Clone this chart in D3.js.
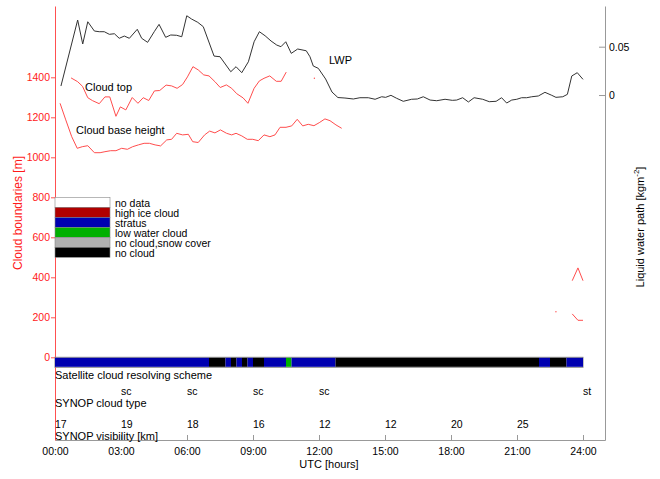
<!DOCTYPE html>
<html>
<head>
<meta charset="utf-8">
<script src="https://cdn.jsdelivr.net/npm/d3@7.9.0/dist/d3.min.js"></script>
<style>
body { margin: 0; background: #fff; }
svg text { font-family: "Liberation Sans", Arial, sans-serif; }
</style>
</head>
<body>
<svg id="chart" width="660" height="479"></svg>
<script>
// hours on x; null = gap
const cloudTop = [
  [0.73,1397],[1.03,1378],[1.25,1355],[1.49,1298],[1.71,1283],[2.01,1268],[2.27,1302],[2.49,1302],
  [2.77,1205],[2.97,1252],[3.22,1237],[3.51,1299],[3.77,1270],[4.01,1298],[4.26,1284],[4.52,1332],
  [4.76,1334],[5.05,1361],[5.30,1357],[5.55,1345],[5.80,1364],[6.02,1402],[6.27,1453],[6.51,1437],
  [6.76,1412],[7.00,1407],[7.27,1378],[7.51,1349],[7.79,1362],[8.03,1345],[8.26,1318],[8.55,1297],
  [8.77,1270],[9.05,1345],[9.29,1382],[9.50,1395],[9.76,1407],[10.06,1380],[10.28,1380],[10.51,1426],
  [11.2,null],[11.79,1395],[12.3,null],
  [23.51,383],[23.77,447],[24.0,383]
];
const cloudBase = [
  [0.23,1270],[0.49,1187],[0.76,1103],[1.01,1045],[1.24,1053],[1.49,1058],[1.79,1023],[2.05,1023],
  [2.27,1028],[2.53,1033],[2.77,1033],[3.03,1045],[3.29,1040],[3.53,1053],[3.79,1062],[4.05,1070],
  [4.29,1070],[4.55,1062],[4.80,1057],[5.08,1087],[5.30,1090],[5.53,1120],[5.80,1112],[6.06,1115],
  [6.26,1078],[6.51,1074],[6.80,1112],[7.03,1131],[7.27,1122],[7.52,1137],[7.80,1120],[8.03,1112],
  [8.23,1120],[8.49,1107],[8.74,1090],[8.99,1090],[9.24,1083],[9.50,1112],[9.77,1103],[10.00,1112],
  [10.23,1150],[10.50,1150],[10.76,1157],[11.01,1190],[11.26,1157],[11.51,1165],[11.77,1158],[12.01,1173],
  [12.27,1192],[12.50,1183],[12.77,1162],[13.03,1145],
  [13.3,null],[22.77,228],[23.0,null],
  [23.51,217],[23.77,185],[24.0,185]
];
const lwp = [
  [0.27,0.0093],[1.03,0.0776],[1.26,0.0528],[1.49,0.0758],[1.79,0.0662],[2.01,0.0655],[2.24,0.0655],
  [2.47,0.0628],[2.70,0.0634],[2.92,0.0587],[3.15,0.0610],[3.38,0.0587],[3.74,0.0680],[3.94,0.0587],
  [4.21,0.0545],[4.51,0.0655],[4.73,0.0731],[5.03,0.0597],[5.26,0.0621],[5.53,0.0618],[5.76,0.0603],
  [5.99,0.0820],[6.21,0.0786],[6.49,0.0752],[6.74,0.0707],[7.23,0.0403],[7.50,0.0396],[7.99,0.0241],
  [8.23,0.0293],[8.49,0.0231],[8.79,0.0344],[9.05,0.0551],[9.29,0.0655],[9.55,0.0613],[9.82,0.0559],
  [10.08,0.0517],[10.27,0.0500],[10.49,0.0551],[10.74,0.0431],[11.03,0.0476],[11.42,0.0458],[11.59,0.0396],
  [11.74,0.0300],[11.97,0.0276],[12.30,0.0166],[12.59,0.0031],[12.86,-0.0026],[13.18,-0.0031],[13.56,-0.0041],
  [13.86,-0.0028],[14.24,-0.0028],[14.55,-0.0044],[14.85,-0.0018],[15.03,-0.0024],[15.27,-0.0003],[15.53,-0.0034],
  [15.83,-0.0065],[16.21,-0.0044],[16.47,-0.0041],[16.74,-0.0018],[17.05,-0.0052],[17.35,-0.0059],[17.73,-0.0044],
  [18.06,-0.0055],[18.26,-0.0052],[18.53,-0.0028],[18.79,-0.0072],[19.05,-0.0028],[19.44,-0.0044],[19.74,-0.0069],
  [20.05,-0.0065],[20.30,-0.0028],[20.53,-0.0083],[20.76,-0.0052],[20.99,-0.0044],[21.21,-0.0028],[21.44,-0.0028],
  [21.67,-0.0018],[21.97,-0.0010],[22.27,0.0028],[22.58,-0.0003],[22.77,-0.0024],[23.08,-0.0018],[23.29,0.0007],
  [23.49,0.0197],[23.74,0.0231],[24.0,0.0162]
];

const cloudClasses = ["no data", "high ice cloud", "stratus", "low water cloud", "no cloud,snow cover", "no cloud"];
const classColors = ["#ffffff", "#b00000", "#0000b0", "#00b000", "#b0b0b0", "#000000"];

// satellite scheme: segment boundaries (hours) and class of each segment
const satBreaks = [0, 7, 7.75, 8, 8.25, 8.5, 8.75, 9, 9.5, 10.5, 10.75, 12.75, 22, 22.5, 23.25, 24];
const satClass = ["stratus", "no cloud", "stratus", "no cloud", "stratus", "no cloud", "stratus", "no cloud",
  "stratus", "low water cloud", "stratus", "no cloud", "stratus", "no cloud", "stratus"];

const synopTypeHours = [3, 6, 9, 12, 24];
const synopTypes = ["sc", "sc", "sc", "sc", "st"];
const synopVisHours = [0, 3, 6, 9, 12, 15, 18, 21];
const synopVis = [17, 19, 18, 16, 12, 12, 20, 25];

const xTickHours = [0, 3, 6, 9, 12, 15, 18, 21, 24];
const xTickLabels = ["00:00", "03:00", "06:00", "09:00", "12:00", "15:00", "18:00", "21:00", "24:00"];
const leftTicks = [0, 200, 400, 600, 800, 1000, 1200, 1400];
const rightTicks = [0, 0.05];

const svg = d3.select("#chart");
const x = d3.scaleLinear().domain([0, 25]).range([55, 605]);
const yL = d3.scaleLinear().domain([-413.5, 1756.5]).range([440, 6]);
const yR = d3.scaleLinear().domain([-0.3569, 0.0921]).range([440, 6]);

const colorOf = d3.scaleOrdinal().domain(cloudClasses).range(classColors);

// axes
let bottom = svg.append("g")
  .attr("transform", "translate(0,440)")
  .call(d3.axisBottom(x).tickValues(xTickHours).tickSizeInner(-5).tickSizeOuter(0).tickPadding(8)
    .tickFormat((d, i) => xTickLabels[i]));
bottom.select(".domain").attr("stroke", "#999");
bottom.selectAll(".tick line").attr("stroke", "#999");
bottom.selectAll("text").attr("font-size", 10.5).attr("fill", "#000").attr("font-family", null);

let right = svg.append("g")
  .attr("transform", "translate(605,0)")
  .call(d3.axisRight(yR).tickValues(rightTicks).tickSizeInner(-6).tickSizeOuter(0).tickPadding(4)
    .tickFormat(d => d === 0 ? "0" : d3.format(".2f")(d)));
right.select(".domain").attr("stroke", "#999");
right.selectAll(".tick line").attr("stroke", "#999");
right.selectAll("text").attr("font-size", 10.5).attr("fill", "#000").attr("font-family", null);

let left = svg.append("g")
  .attr("transform", "translate(55,0)")
  .call(d3.axisLeft(yL).tickValues(leftTicks).tickSizeInner(4).tickSizeOuter(0).tickPadding(1)
    .tickFormat(d3.format("d")));
left.select(".domain").attr("stroke", "#ff5050");
left.selectAll(".tick line").attr("stroke", "#ff5050");
left.selectAll("text").attr("font-size", 10.5).attr("fill", "#ff1a1a").attr("font-family", null);

// axis titles
svg.append("text")
  .attr("transform", "translate(22,213) rotate(-90)")
  .attr("text-anchor", "middle")
  .attr("font-size", 12)
  .attr("fill", "#ff1a1a")
  .text("Cloud boundaries [m]");

let rt = svg.append("text")
  .attr("transform", "translate(644,227) rotate(-90)")
  .attr("text-anchor", "middle")
  .attr("font-size", 11)
  .attr("fill", "#000");
rt.append("tspan").text("Liquid water path [kgm");
rt.append("tspan").attr("font-size", 8).attr("dy", -5).text("-2");
rt.append("tspan").attr("dy", 5).text("]");

svg.append("text")
  .attr("x", 329).attr("y", 468)
  .attr("text-anchor", "middle")
  .attr("font-size", 11)
  .text("UTC [hours]");

// legend (stacked at 800 m, 50 m per row)
cloudClasses.forEach((c, i) => {
  svg.append("rect")
    .attr("x", x(0)).attr("width", 55)
    .attr("y", yL(800 - 50 * i)).attr("height", yL(750 - 50 * i) - yL(800 - 50 * i))
    .attr("fill", colorOf(c))
    .attr("stroke", "#888").attr("stroke-width", 0.6);
  svg.append("text")
    .attr("x", 115).attr("y", yL(775 - 50 * i))
    .attr("dy", "0.45em")
    .attr("font-size", 10.5)
    .text(c);
});

// satellite scheme bar
svg.append("rect")
  .attr("x", x(0)).attr("width", x(24) - x(0))
  .attr("y", yL(0)).attr("height", yL(-50) - yL(0))
  .attr("fill", "none").attr("stroke", "#888").attr("stroke-width", 1);
satClass.forEach((c, i) => {
  svg.append("rect")
    .attr("x", x(satBreaks[i])).attr("width", x(satBreaks[i + 1]) - x(satBreaks[i]))
    .attr("y", yL(0) + 0.5).attr("height", yL(-50) - yL(0) - 1)
    .attr("fill", colorOf(c));
});

// lines
function drawSeries(data, y, color) {
  let line = d3.line().defined(d => d[1] !== null).x(d => x(d[0])).y(d => y(d[1]));
  svg.append("path")
    .attr("d", line(data))
    .attr("fill", "none")
    .attr("stroke", color)
    .attr("stroke-width", 1);
  data.forEach((d, i) => {
    let prev = data[i - 1], next = data[i + 1];
    if (d[1] !== null && (!prev || prev[1] === null) && (!next || next[1] === null)) {
      svg.append("circle").attr("cx", x(d[0])).attr("cy", y(d[1])).attr("r", 0.7).attr("fill", color);
    }
  });
}
drawSeries(cloudTop, yL, "#ff4d4d");
drawSeries(cloudBase, yL, "#ff4d4d");
drawSeries(lwp, yR, "#333");

// line labels
svg.append("text").attr("x", 85).attr("y", 91).attr("font-size", 11).text("Cloud top");
svg.append("text").attr("x", 76).attr("y", 134).attr("font-size", 11).text("Cloud base height");
svg.append("text").attr("x", 329).attr("y", 64).attr("font-size", 11).text("LWP");

// annotation rows
svg.append("text").attr("x", x(0)).attr("y", 379).attr("font-size", 11).text("Satellite cloud resolving scheme");
synopTypes.forEach((t, i) => {
  svg.append("text").attr("x", x(synopTypeHours[i])).attr("y", 395).attr("font-size", 10.5).text(t);
});
svg.append("text").attr("x", x(0)).attr("y", 407).attr("font-size", 11).text("SYNOP cloud type");
synopVis.forEach((v, i) => {
  svg.append("text").attr("x", x(synopVisHours[i])).attr("y", 428).attr("font-size", 10.5).text(v);
});
svg.append("text").attr("x", x(0)).attr("y", 440).attr("font-size", 11).text("SYNOP visibility [km]");
</script>
</body>
</html>
